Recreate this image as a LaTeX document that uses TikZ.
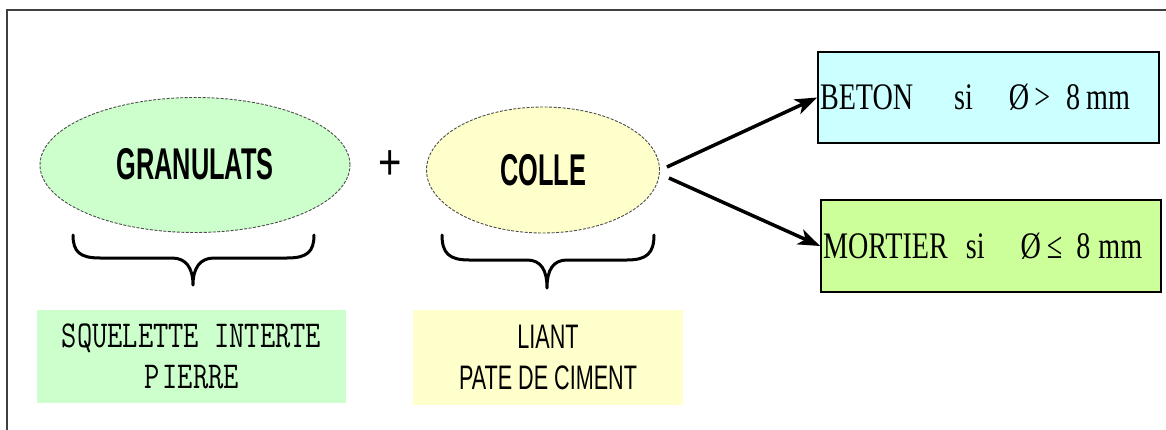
\documentclass[tikz,border=0pt]{standalone}
\usepackage{fontspec}
\usetikzlibrary{arrows.meta,shapes.geometric,calc}
\newfontfamily\granfont[FakeStretch=0.57]{Liberation Sans}
\newfontfamily\liantfont[FakeStretch=0.635]{Liberation Sans}
\newfontfamily\serifnarrow[FakeStretch=0.75]{Liberation Serif}
\newfontfamily\plusfont[FakeStretch=0.8]{Liberation Sans}
\newcommand\sqz[1]{\scalebox{0.78}[1]{#1}}
\definecolor{greenfill}{HTML}{CCFFCC}
\definecolor{yellowfill}{HTML}{FFFFCC}
\definecolor{cyanfill}{HTML}{CCFFFF}
\definecolor{limefill}{HTML}{CCFF99}
\definecolor{framegray}{HTML}{404040}
\tikzset{
  ellnode/.style={ellipse, draw=black!70, dashed, dash pattern=on 3pt off 1.5pt, line width=0.9pt, inner sep=0pt,
    font=\granfont\bfseries\fontsize{44.5}{46}\selectfont},
  resbox/.style={rectangle, draw=black, line width=1.8pt, inner xsep=2pt, inner ysep=0pt, align=left,
    font=\serifnarrow\fontsize{37.5}{40}\selectfont},
  labbox/.style={rectangle, inner sep=0pt, align=center},
  bracepath/.style={line width=3pt, black, line cap=round, line join=round},
  arr/.style={line width=3.5pt, -{Stealth[length=22pt,width=16pt,inset=6pt]}}
}
\begin{document}
\begin{tikzpicture}[x=1pt,y=-1pt]
\useasboundingbox (0,0) rectangle (1166,430);
\fill[white] (0,0) rectangle (1166,430);
% frame
\draw[framegray, line width=2pt] (7,430) -- (7,10) -- (1166,10);
% ellipses
\node[ellnode, fill=greenfill, minimum width=310pt, minimum height=135pt] (gran) at (195,165) {\raisebox{3pt}{GRANULATS}};
\node[ellnode, fill=yellowfill, minimum width=233pt, minimum height=126pt] (colle) at (543,170) {COLLE};
\node[font=\plusfont\fontsize{50}{50}\selectfont, inner sep=0pt] (plus) at (390,165) {+};
% result boxes
\node[resbox, fill=cyanfill, minimum height=91pt, text width=337pt] (beton) at (988.5,97.5)
  {BETON\hspace{41pt}si\hspace{36pt}Ø\hspace{5pt}>\hspace{16pt}8\hspace{6pt}mm};
\node[resbox, fill=limefill, minimum height=92pt, text width=336pt] (mortier) at (991,246)
  {MORTIER\hspace{18pt}si\hspace{36pt}Ø\hspace{6pt}≤\hspace{14pt}8\hspace{8pt}mm};
% arrows
\coordinate (s1) at ($(colle.east)+(7,-3)$);
\coordinate (s2) at ($(colle.east)+(9,8)$);
\draw[arr] (s1) -- (beton.west);
\draw[arr] (s2) -- (mortier.west);
% braces
\draw[bracepath] (73,235) .. controls (73,252) and (80,258) .. (100,258) -- (172,258)
  .. controls (186,258) and (193,268) .. (193,285)
  .. controls (193,268) and (200,258) .. (214,258) -- (287,258)
  .. controls (307,258) and (314,252) .. (314,235);
\draw[bracepath] (442,235) .. controls (442,253) and (449,260) .. (469,260) -- (527,260)
  .. controls (541,260) and (547,270) .. (547,288)
  .. controls (547,270) and (553,260) .. (567,260) -- (627,260)
  .. controls (647,260) and (654,253) .. (654,235);
% label boxes
\node[labbox, fill=greenfill, minimum width=309pt, minimum height=93pt,
  font=\ttfamily\fontsize{38}{41}\selectfont] (sq) at (191.5,356.5) {\sqz{SQUELETTE INTERTE}\\\sqz{P\kern4pt IERRE}};
\node[labbox, fill=yellowfill, minimum width=270pt, minimum height=95pt,
  font=\liantfont\fontsize{34}{41}\selectfont] (liant) at (548,357.5) {LIANT\\PATE DE CIMENT};
\end{tikzpicture}
\end{document}
